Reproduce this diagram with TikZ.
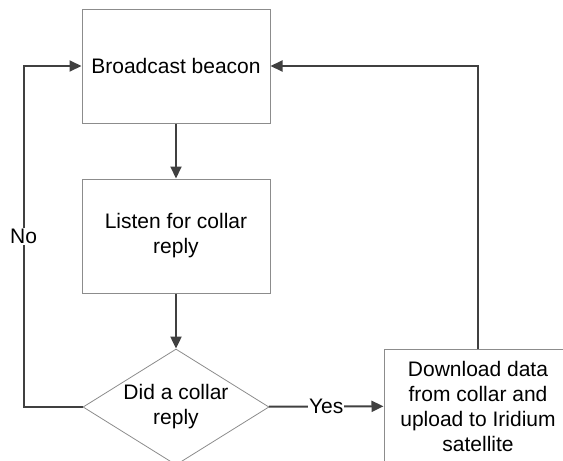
\documentclass[tikz,border=0pt]{standalone}
\usepackage{fontspec}
\setmainfont{Liberation Sans}
\usepackage{tikz}
\usetikzlibrary{shapes.geometric}
\usetikzlibrary{arrows.meta}
\definecolor{edgegray}{RGB}{140,140,140}
\definecolor{linegray}{RGB}{64,64,64}
\tikzset{
  stepbox/.style={draw=edgegray, line width=1pt, minimum width=188pt, minimum height=114pt, inner sep=0pt, align=center},
  decide/.style={draw=edgegray, line width=0.8pt, diamond, aspect=1.6, minimum width=186pt, minimum height=116pt, inner sep=0pt, align=center},
  flow/.style={linegray, line width=2pt, -{Triangle[length=12pt,width=11pt]}},
  lbl/.style={fill=white, text=black, inner sep=1pt}
}

\begin{document}
\begin{tikzpicture}[x=1pt, y=-1pt, font=\fontsize{21}{25}\selectfont]
\useasboundingbox (0,0) rectangle (563,461);
\clip (0,0) rectangle (563,461);
\node[stepbox] (beacon) at (176,66) {Broadcast beacon};
\node[stepbox] (listen) at (176,236) {Listen for collar\\reply};
\node[decide] (reply) at (176,407) {Did a collar\\reply};
\node[stepbox] (upload) at (478,406) {Download data\\from collar and\\upload to Iridium\\satellite};
%
\draw[flow] (beacon) -- (listen);
\draw[flow] (listen) -- (reply);
\draw[flow] (reply) -- node[lbl]{Yes} (upload);
%
\draw[flow] (reply.west) -- ++(-59,0) |- node[pos=0.25, lbl]{No} (beacon.west);
\draw[flow] (upload.north) |- (beacon.east);
\end{tikzpicture}
\end{document}
